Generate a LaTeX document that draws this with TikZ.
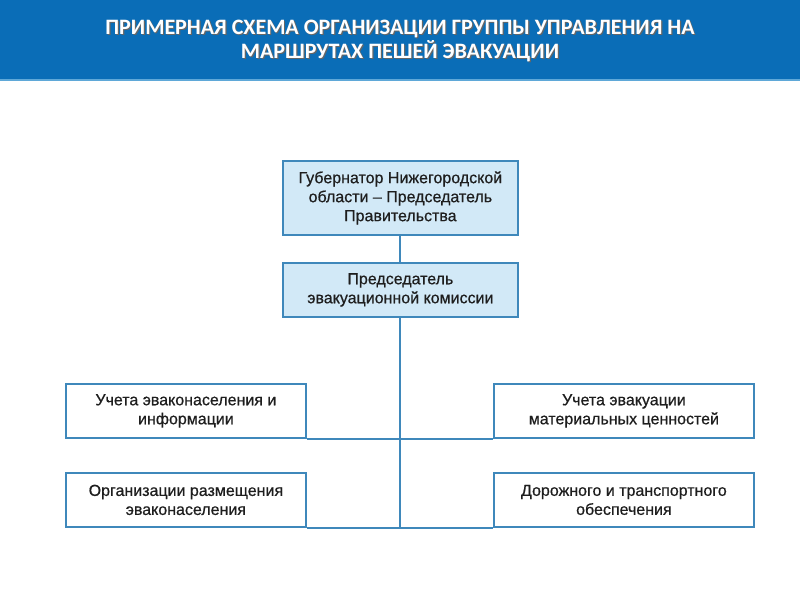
\documentclass[tikz,border=0pt]{standalone}
\usepackage{fontspec}
\setmainfont{Liberation Sans}[FakeBold=0.6]
\newfontfamily\titlefont{Carlito}
\definecolor{banner}{HTML}{0A6DB7}
\definecolor{bannerline}{HTML}{5FA8D8}
\definecolor{edge}{HTML}{3F88BB}
\definecolor{lightfill}{HTML}{D2E9F7}
\definecolor{txt}{HTML}{1E1E1E}
\begin{document}
\begin{tikzpicture}[x=1pt,y=-1pt,
  box/.style={draw=edge, line width=1.8pt, inner sep=0pt, align=center,
    font=\fontsize{16}{19}\selectfont, text=txt, anchor=north west},
  topbox/.style={box, fill=lightfill},
  plainbox/.style={box, fill=white},
  link/.style={draw=edge, line width=2pt}]
\useasboundingbox (0,0) rectangle (800,600);
\fill[white] (0,0) rectangle (800,600);
\fill[banner] (0,0) rectangle (800,79);
\fill[bannerline] (0,79) rectangle (800,81);
\node[font=\titlefont\bfseries\fontsize{22}{24.5}\selectfont, text=black!60, align=center] at (401.2,42.2) {ПРИМЕРНАЯ СХЕМА ОРГАНИЗАЦИИ ГРУППЫ УПРАВЛЕНИЯ НА\\МАРШРУТАХ ПЕШЕЙ ЭВАКУАЦИИ};
\node (title) [font=\titlefont\bfseries\fontsize{22}{24.5}\selectfont, text=white, align=center] at (400,41) {ПРИМЕРНАЯ СХЕМА ОРГАНИЗАЦИИ ГРУППЫ УПРАВЛЕНИЯ НА\\МАРШРУТАХ ПЕШЕЙ ЭВАКУАЦИИ};

\node (gov) [topbox, minimum width=235pt, minimum height=74pt] at (282,160) {Губернатор Нижегородской\\области – Председатель\\Правительства};
\node (chair) [topbox, minimum width=235pt, minimum height=54pt] at (282,262) {Председатель\\эвакуационной комиссии};
\node (l1) [plainbox, minimum width=240pt, minimum height=54pt] at (65,383) {Учета эваконаселения и\\информации};
\node (r1) [plainbox, minimum width=260pt, minimum height=54pt] at (493,383) {Учета эвакуации\\материальных ценностей};
\node (l2) [plainbox, minimum width=240pt, minimum height=54pt] at (65,472) {Организации размещения\\эваконаселения};
\node (r2) [plainbox, minimum width=260pt, minimum height=54pt] at (493,472) {Дорожного и транспортного\\обеспечения};

\coordinate (bottom) at (chair.south |- l2.south);
\draw[link] (gov.south) -- (chair.north);
\draw[link] (chair.south) -- (bottom);
\draw[link] (l1.south east) -- (r1.south west);
\draw[link] (l2.south east) -- (r2.south west);
\end{tikzpicture}
\end{document}
